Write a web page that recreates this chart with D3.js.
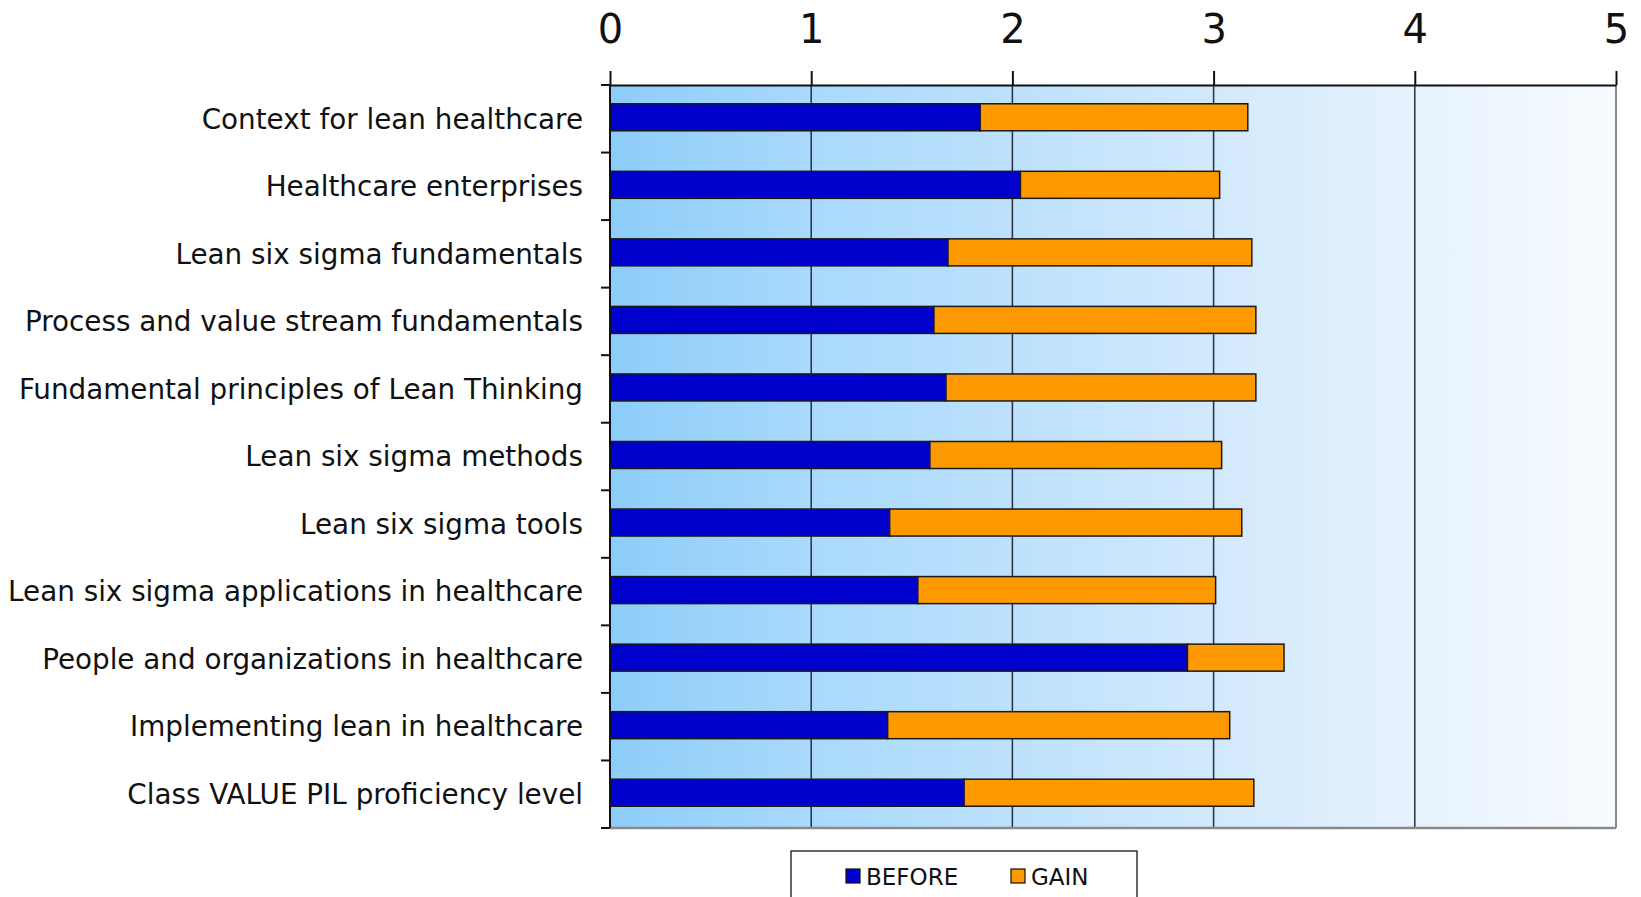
<!DOCTYPE html>
<html>
<head>
<meta charset="utf-8">
<script src="https://cdn.jsdelivr.net/npm/d3@7"></script>
<style>
  body { margin: 0; background: #fff; }
  text { font-family: "DejaVu Sans", Verdana, sans-serif; fill: #111; }
</style>
</head>
<body>
<div id="chart"></div>
<script>
const W = 1641, H = 897;
const margin = {top: 85, right: 25, bottom: 69, left: 610};
const width = W - margin.left - margin.right;
const height = H - margin.top - margin.bottom;

var categories = [
    "Context for lean healthcare",
    "Healthcare enterprises",
    "Lean six sigma fundamentals",
    "Process and value stream fundamentals",
    "Fundamental principles of Lean Thinking",
    "Lean six sigma methods",
    "Lean six sigma tools",
    "Lean six sigma applications in healthcare",
    "People and organizations in healthcare",
    "Implementing lean in healthcare",
    "Class VALUE PIL proficiency level"
];
var before = [1.84, 2.04, 1.68, 1.61, 1.67, 1.59, 1.39, 1.53, 2.87, 1.38, 1.76];
var gain   = [1.33, 0.99, 1.51, 1.60, 1.54, 1.45, 1.75, 1.48, 0.48, 1.70, 1.44];
var seriesNames = ["BEFORE", "GAIN"];
var seriesColors = ["#0000cc", "#ff9900"];
var xTicks = [0, 1, 2, 3, 4, 5];

var table = categories.map(function (c, i) {
    return {cat: c, BEFORE: before[i], GAIN: gain[i]};
});

var xScale = d3.scaleLinear().domain([0, 5]).range([0, width]);
var yScale = d3.scaleBand().domain(categories).range([0, height]).padding(0);
var color = d3.scaleOrdinal().domain(seriesNames).range(seriesColors);

var svg = d3.select("#chart").append("svg")
    .attr("width", W)
    .attr("height", H)
    .append("g")
    .attr("transform", "translate(" + margin.left + "," + margin.top + ")");

// background gradient of the plot area
var grad = svg.append("defs").append("linearGradient")
    .attr("id", "bg-grad")
    .attr("x1", "0%").attr("y1", "0%").attr("x2", "100%").attr("y2", "0%");
grad.selectAll("stop")
    .data([
        {offset: "0%", color: "#8dcdf9"},
        {offset: "20%", color: "#a9d9fc"},
        {offset: "40%", color: "#bde1fc"},
        {offset: "60%", color: "#d2e9fc"},
        {offset: "80%", color: "#e6f2fd"},
        {offset: "100%", color: "#f8fbff"}
    ])
    .enter().append("stop")
    .attr("offset", function (d) { return d.offset; })
    .attr("stop-color", function (d) { return d.color; });

svg.append("rect")
    .attr("width", width)
    .attr("height", height)
    .style("fill", "url(#bg-grad)");

// vertical grid lines
svg.selectAll(".grid")
    .data(xTicks.slice(1, -1))
    .enter().append("line")
    .attr("class", "grid")
    .attr("x1", function (d) { return xScale(d); })
    .attr("x2", function (d) { return xScale(d); })
    .attr("y1", 0)
    .attr("y2", height)
    .attr("stroke", "#2a2f38")
    .attr("stroke-width", 1.5);

// right and bottom border
svg.append("line")
    .attr("x1", width).attr("x2", width).attr("y1", 0).attr("y2", height)
    .attr("stroke", "#8a8a8a").attr("stroke-width", 2);
svg.append("line")
    .attr("x1", 0).attr("x2", width).attr("y1", height).attr("y2", height)
    .attr("stroke", "#8a8a8a").attr("stroke-width", 2.5);

// stacked bars
var stacked = d3.stack().keys(seriesNames)(table);
var barH = yScale.bandwidth() * 0.4;

svg.selectAll(".series")
    .data(stacked)
    .enter().append("g")
    .attr("class", "series")
    .attr("fill", function (d) { return color(d.key); })
    .selectAll("rect")
    .data(function (d) { return d; })
    .enter().append("rect")
    .attr("x", function (d) { return xScale(d[0]); })
    .attr("y", function (d) { return yScale(d.data.cat) + (yScale.bandwidth() - barH) / 2 - 1.5; })
    .attr("width", function (d) { return xScale(d[1]) - xScale(d[0]); })
    .attr("height", barH)
    .attr("stroke", "#1a1a1a")
    .attr("stroke-width", 1.5);

// top axis
var xAxis = d3.axisTop(xScale).tickValues(xTicks).tickFormat(d3.format("d"))
    .tickSize(14).tickPadding(28).tickSizeOuter(0);
var gx = svg.append("g").attr("class", "x axis").call(xAxis);
gx.select(".domain").attr("stroke", "#111").attr("stroke-width", 2);
gx.selectAll(".tick line").attr("stroke", "#111").attr("stroke-width", 2);
gx.selectAll(".tick text")
    .style("font-size", "40px")
    .style("font-family", "DejaVu Sans, Verdana, sans-serif")
    .attr("fill", "#111");

// left axis: ticks at band edges, labels centred on bands
svg.append("line")
    .attr("x1", 0).attr("x2", 0).attr("y1", 0).attr("y2", height)
    .attr("stroke", "#111").attr("stroke-width", 2);

var edges = categories.map(function (c) { return yScale(c); }).concat([height]);
svg.selectAll(".ytick")
    .data(edges)
    .enter().append("line")
    .attr("class", "ytick")
    .attr("x1", -9).attr("x2", 0)
    .attr("y1", function (d) { return d; })
    .attr("y2", function (d) { return d; })
    .attr("stroke", "#111")
    .attr("stroke-width", 2);

svg.selectAll(".ylabel")
    .data(categories)
    .enter().append("text")
    .attr("class", "ylabel")
    .attr("x", -27)
    .attr("y", function (d) { return yScale(d) + yScale.bandwidth() / 2; })
    .attr("dy", "0.35em")
    .attr("text-anchor", "end")
    .style("font-size", "27.8px")
    .text(function (d) { return d; });

// legend
var legend = svg.append("g")
    .attr("transform", "translate(" + (791 - margin.left) + "," + (851 - margin.top) + ")");
legend.append("rect")
    .attr("width", 346)
    .attr("height", 70)
    .attr("fill", "#fff")
    .attr("stroke", "#333")
    .attr("stroke-width", 1.5);

var items = legend.selectAll(".item")
    .data(seriesNames)
    .enter().append("g")
    .attr("class", "item")
    .attr("transform", function (d, i) { return "translate(" + (55 + i * 165) + ",18)"; });
items.append("rect")
    .attr("width", 14)
    .attr("height", 14)
    .attr("fill", function (d) { return color(d); })
    .attr("stroke", "#111")
    .attr("stroke-width", 1.2);
items.append("text")
    .attr("x", 20)
    .attr("y", 16)
    .style("font-size", "23px")
    .text(function (d) { return d; });
</script>
</body>
</html>
